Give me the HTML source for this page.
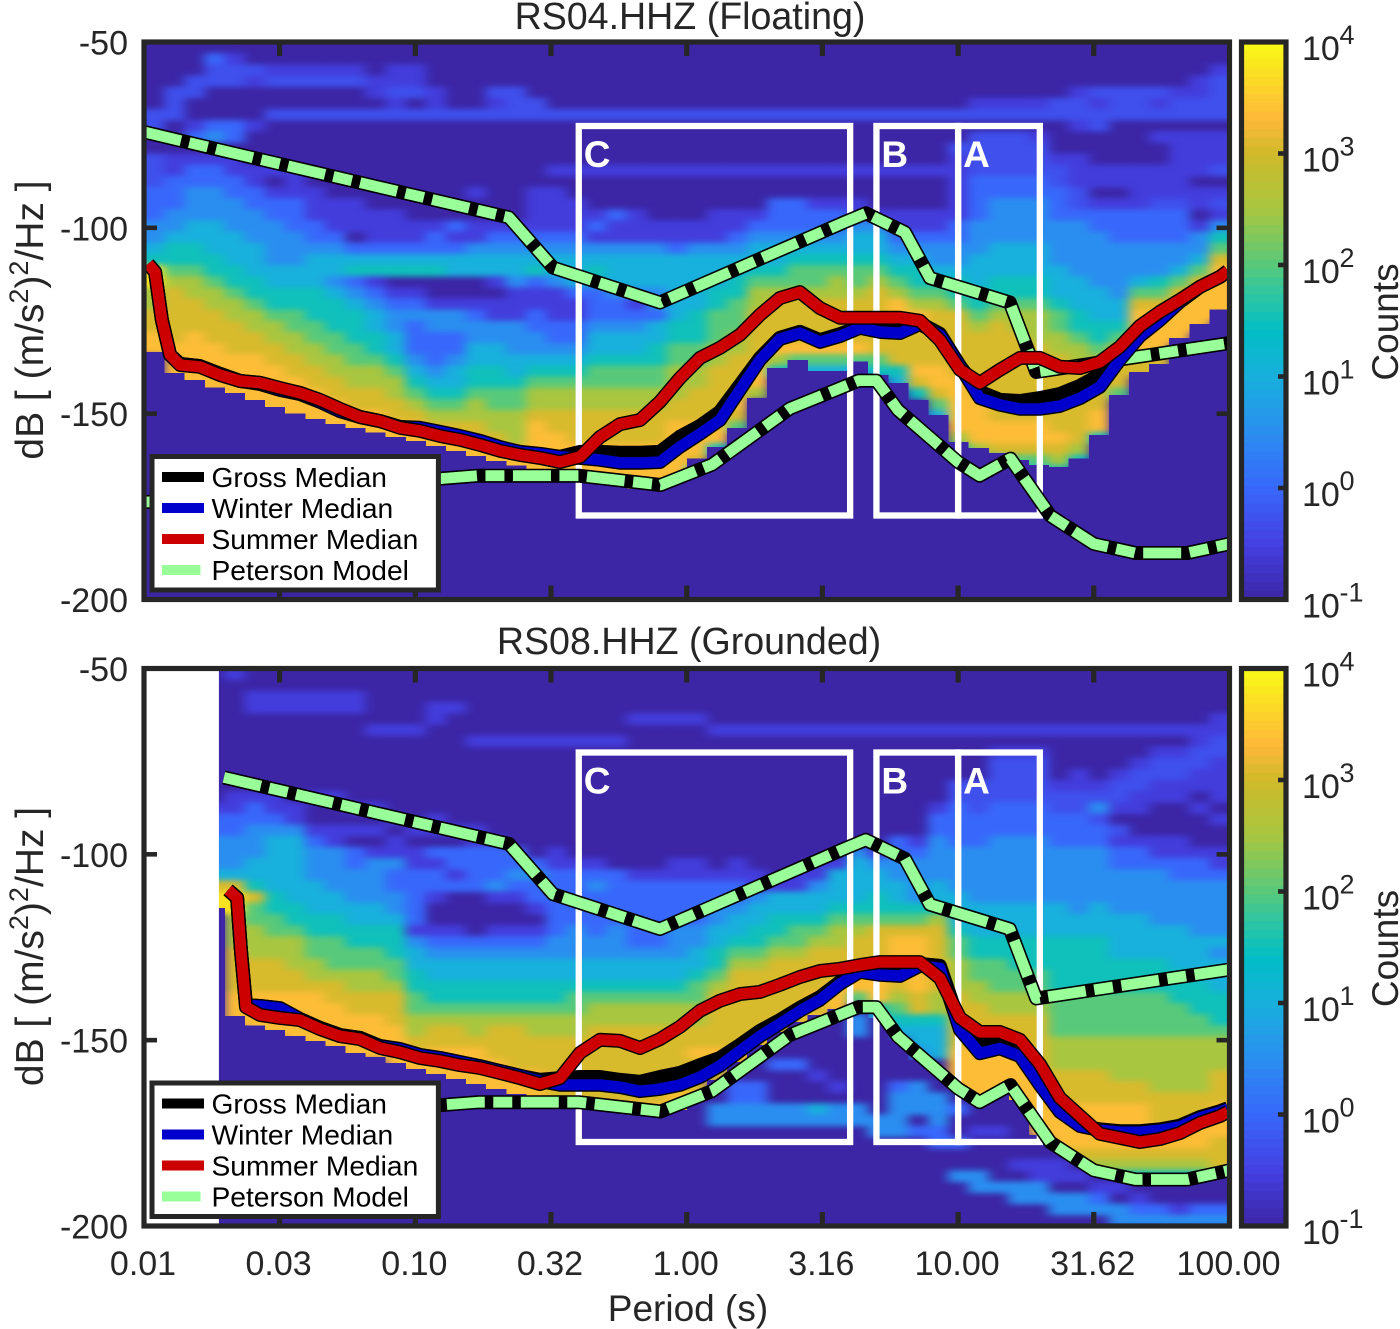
<!DOCTYPE html>
<html lang="en">
<head>
<meta charset="utf-8">
<title>RS04 and RS08 HHZ power spectral density</title>
<style>
html,body{margin:0;padding:0;background:#fff}
svg{display:block}
text{font-family:"Liberation Sans",sans-serif;fill:#262626}
.lg{font-size:28.2px;fill:#000}
.bx{font-size:37px;font-weight:bold;fill:#fff}
.ttl{font-size:37.6px;text-anchor:middle}
.ax{font-size:37px}
.yl{font-size:39px}
</style>
</head>
<body>
<svg id="chart" width="1400" height="1329" viewBox="0 0 1400 1329" xmlns="http://www.w3.org/2000/svg">
<defs>
<filter id="soft" filterUnits="userSpaceOnUse" x="90" y="0" width="1200" height="1329" color-interpolation-filters="sRGB"><feGaussianBlur stdDeviation="5.5 3"/></filter>
<clipPath id="clip-a"><rect x="144" y="42" width="1085.5" height="557.5"/></clipPath>
<clipPath id="clip-b"><rect x="144" y="668.5" width="1085.5" height="557.5"/></clipPath>
</defs>

<text class="ttl" x="690" y="29">RS04.HHZ (Floating)</text>
<g id="marks-a"></g>
<g>
<rect x="152" y="456.5" width="286.4" height="133.5" fill="#fff" stroke="#262626" stroke-width="5"/>
<rect x="162" y="472" width="42" height="10" fill="#000"/>
<rect x="162" y="503" width="42" height="10" fill="#0000cc"/>
<rect x="162" y="534" width="42" height="10" fill="#cc0000"/>
<rect x="162" y="565" width="38.5" height="10" fill="#99ff99"/>
<text class="lg" x="211.5" y="487">Gross Median</text>
<text class="lg" x="211.5" y="518">Winter Median</text>
<text class="lg" x="211.5" y="549">Summer Median</text>
<text class="lg" x="211.5" y="580">Peterson Model</text>
</g>

<text class="ttl" x="689" y="654">RS08.HHZ (Grounded)</text>
<g id="marks-b"></g>
<g>
<rect x="152" y="1083" width="286.4" height="133.5" fill="#fff" stroke="#262626" stroke-width="5"/>
<rect x="162" y="1098.5" width="42" height="10" fill="#000"/>
<rect x="162" y="1129.5" width="42" height="10" fill="#0000cc"/>
<rect x="162" y="1160.5" width="42" height="10" fill="#cc0000"/>
<rect x="162" y="1191.5" width="38.5" height="10" fill="#99ff99"/>
<text class="lg" x="211.5" y="1113.5">Gross Median</text>
<text class="lg" x="211.5" y="1144.5">Winter Median</text>
<text class="lg" x="211.5" y="1175.5">Summer Median</text>
<text class="lg" x="211.5" y="1206.5">Peterson Model</text>
</g>

<text class="ax" x="688" y="1321" text-anchor="middle">Period (s)</text>
<text class="yl" transform="translate(43,320) rotate(-90)" text-anchor="middle">dB [ (m/s<tspan dy="-15" font-size="27">2</tspan><tspan dy="15">)</tspan><tspan dy="-15" font-size="27">2</tspan><tspan dy="15">/Hz ]</tspan></text>
<text class="yl" transform="translate(43,946.5) rotate(-90)" text-anchor="middle">dB [ (m/s<tspan dy="-15" font-size="27">2</tspan><tspan dy="15">)</tspan><tspan dy="-15" font-size="27">2</tspan><tspan dy="15">/Hz ]</tspan></text>
<text class="ax" transform="translate(1398,322) rotate(-90)" text-anchor="middle">Counts</text>
<text class="ax" transform="translate(1398,948.5) rotate(-90)" text-anchor="middle">Counts</text>
<g id="colorbars"></g>
</svg>

<script>
/* ---------- shared axis data ---------- */
const xTickPeriods = [0.01, 0.0316, 0.1, 0.316, 1, 3.16, 10, 31.6, 100];
const xTickLabels = ["0.01", "0.03", "0.10", "0.32", "1.00", "3.16", "10.00", "31.62", "100.00"];
const yTicks = [-50, -100, -150, -200];
const colorbarExponents = [4, 3, 2, 1, 0, -1];
const colorStops = [
  [0.00, 60, 38, 166], [0.10, 68, 64, 226], [0.20, 56, 104, 251], [0.30, 42, 142, 240],
  [0.40, 24, 176, 220], [0.48, 2, 189, 198], [0.55, 48, 198, 160], [0.60, 88, 201, 122],
  [0.70, 168, 198, 64], [0.80, 208, 186, 42], [0.86, 253, 184, 58], [0.92, 252, 212, 42],
  [1.00, 249, 251, 21]
];
const levelFractions = {"0":0,"1":0.09,"b":0.14,"2":0.2,"3":0.3,"4":0.4,"5":0.5,"6":0.6,"7":0.7,"8":0.81,"9":0.87,"a":0.95};

/* ---------- Peterson noise models ---------- */
const nhnmPeriods = [0.01, 0.0197, 0.2213, 0.3214, 0.796, 3.8, 4.57, 6.37, 7.87, 15.5, 19.4, 100];
const nhnmDb = [-74.2, -79.3, -97.2, -110.7, -120.1, -98.5, -96.1, -101.2, -113.5, -120.1, -138.8, -131];
const nlnmPeriods = [0.01, 0.02, 0.1, 0.17, 0.4, 0.8, 1.24, 2.4, 4.3, 5, 6, 10, 12, 15.6, 21.9, 31.6, 45, 70, 100];
const nlnmDb = [-173.8, -172.5, -168, -166.7, -166.7, -169.2, -163.7, -148.6, -141.1, -141.1, -149, -163, -166.7, -162.1, -177.5, -185, -187.5, -187.5, -185];

/* ---------- highlighted period windows ---------- */
const windowLabels = ["C", "B", "A"];
const windowLowPeriods = [0.4, 5, 10];
const windowHighPeriods = [4, 10, 20];
const windowTopDb = -72.6;
const windowBottomDb = -177.4;

/* ---------- top panel: median curves (log10 period, dB) ---------- */
const logPeriodsA = [-1.985,-1.959,-1.934,-1.904,-1.867,-1.794,-1.72,-1.646,-1.573,-1.499,-1.425,-1.352,-1.278,-1.204,-1.13,-1.057,-0.983,-0.909,-0.836,-0.762,-0.688,-0.615,-0.541,-0.467,-0.393,-0.32,-0.246,-0.172,-0.099,-0.025,0.049,0.122,0.196,0.27,0.343,0.417,0.491,0.565,0.638,0.712,0.786,0.859,0.933,1.007,1.08,1.154,1.228,1.301,1.375,1.449,1.522,1.596,1.67,1.744,1.817,1.891,1.965,1.994];
const grossA = [-109.7,-111.9,-124.8,-134.2,-136.6,-137.2,-139.3,-141.2,-141.7,-143.3,-144.4,-146.6,-149,-150.9,-152,-153.6,-154.1,-155.2,-156.2,-157.6,-159.2,-160.3,-161.1,-161.6,-160.3,-160.3,-160.5,-160.5,-160.3,-156.2,-153.3,-149.5,-142.3,-135,-129.6,-128,-130.2,-128.6,-126.6,-126.9,-127.5,-125.6,-128.5,-137.2,-144.1,-146.3,-146.6,-145.8,-144.7,-142.5,-139.6,-134.7,-128.5,-123.7,-119.9,-115.9,-113.2,-111.6];
const winterA = [-109.7,-111.9,-124.8,-134.2,-136.6,-137.2,-139.3,-141.2,-142,-143.6,-144.7,-146.8,-149.3,-150.9,-152,-153.6,-153.8,-154.9,-156,-157.3,-159,-160.3,-160.8,-161.6,-161.9,-162.4,-163.2,-163.2,-163,-158.9,-155.4,-151.7,-143.6,-135.5,-129.9,-128.3,-130.7,-129.1,-126.9,-128,-128.3,-125.9,-128.8,-137.2,-145.8,-147.6,-148.7,-148.7,-147.9,-145.8,-142.8,-135.5,-129.1,-124.8,-119.9,-115.9,-113.2,-111.6];
const summerA = [-109.7,-111.9,-124.8,-134.2,-136.9,-137.4,-139.6,-141.2,-141.7,-143.1,-144.4,-146.3,-148.7,-150.9,-152,-153.8,-154.6,-156,-157,-158.4,-160,-161.1,-161.9,-163,-161.6,-156.3,-152.8,-151.7,-146.8,-140.4,-135,-132.3,-128.8,-123.4,-118.9,-117.3,-121.6,-124.2,-124.2,-124.2,-124.2,-125,-130.2,-138.2,-141.7,-138.2,-135,-135,-137.4,-137.7,-136.1,-132,-126.4,-122.6,-119.4,-115.9,-113.2,-111.6];

/* ---------- bottom panel: median curves (log10 period, dB) ---------- */
const logPeriodsB = [-1.69,-1.657,-1.643,-1.624,-1.573,-1.499,-1.425,-1.352,-1.278,-1.204,-1.13,-1.057,-0.983,-0.909,-0.836,-0.762,-0.688,-0.615,-0.541,-0.467,-0.393,-0.32,-0.246,-0.172,-0.099,-0.025,0.049,0.122,0.196,0.27,0.343,0.417,0.491,0.565,0.638,0.712,0.786,0.859,0.933,1.007,1.08,1.154,1.228,1.301,1.375,1.449,1.522,1.596,1.67,1.744,1.817,1.891,1.965,1.994];
const grossB = [-109.6,-111.7,-125.7,-140.6,-140.8,-141.4,-144.3,-146.7,-148.6,-149.4,-151.6,-152.4,-154,-154.8,-155.9,-157,-158.3,-159.6,-160.7,-160.2,-159.9,-159.9,-160.7,-161.2,-159.9,-158.8,-156.7,-154.8,-151.3,-147.5,-144.6,-141.3,-138.4,-134.3,-131.4,-131.6,-131.6,-129.5,-130,-145.9,-151.3,-150.5,-152.6,-161.2,-169,-173,-174,-174.5,-174.5,-174,-173,-170.7,-169.1,-168.3];
const winterB = [-109.6,-111.7,-125.7,-140.6,-140.8,-141.4,-144.3,-146.7,-148.6,-149.4,-151.6,-152.4,-154,-154.8,-155.9,-157,-158.3,-159.6,-161,-162,-162,-162,-162.6,-163.7,-163.1,-162,-159.9,-156.9,-152.9,-148.9,-145.6,-142.1,-139.1,-134.8,-131.6,-132.4,-132.7,-130,-130.6,-147.2,-153.5,-152.2,-154.3,-162,-169.3,-173.1,-174.2,-174.7,-174.7,-174.2,-173.3,-170.9,-169.3,-168.5];
const summerB = [-109.6,-111.7,-125.7,-141.1,-143.2,-144,-144.6,-147,-148.9,-149.7,-152.1,-153.2,-154.8,-155.6,-156.7,-157.5,-158.8,-160.2,-161.8,-160.2,-153.4,-149.9,-150.2,-152.1,-149.7,-146.4,-142.1,-139.4,-137.6,-137,-135.1,-133,-131.4,-130.8,-129.8,-129,-129,-129,-133.3,-144,-147.8,-147.8,-149.9,-156.4,-165.5,-170.4,-175.2,-176.3,-177.4,-176.6,-175,-172.3,-170.4,-169.3];

/* ---------- top panel heat map: one string per period bin, 3 dB rows from -50 dB down ---------- */
const heatFloorA = [-133.4,-139,-141,-143,-144.4,-146.3,-148.2,-150,-151.4,-152.8,-153.8,-155,-156.3,-157.3,-158.7,-160,-161.4,-162.7,-164,-165,-165.7,-166.2,-167.3,-168.6,-170.3,-170.5,-167.3,-162,-159,-153.8,-145.8,-137.7,-135.5,-138.5,-138.5,-136,-139.6,-141.7,-146.3,-150.4,-157.6,-159.2,-160.6,-162.5,-163.8,-164.3,-162,-155.7,-145,-138.8,-136.6,-129.6,-125.9,-122];
const heatLevelsA = [
"00000 0bb00 bbb22 23345 aa778 899",
"0000b bb000 11222 33455 67888 88999 9",
"000bb 00120 12233 34455 67788 89999 99",
"02bb0 00230 12233 34445 56778 88999 99",
"01bb0 00220 11223 33444 55677 88899 999",
"00b10 00100 01122 33344 45567 78899 9999",
"001b0 0b000 01012 23333 44556 77889 99999",
"001b0 0b000 01112 22333 44556 67788 99999",
"001b0 0b000 00011 12234 44555 66778 89999 9",
"001b0 0b000 00001 11234 43455 56677 88999 9",
"001b0 0b000 00001 11024 52345 55667 78899 9",
"00011 0b000 00000 11124 51234 45567 78899 9",
"0011b 1b000 00000 11124 50123 34456 77889 99",
"0011b 0b000 00000 01124 50123 22234 56789 99",
"00001 1b000 00000 01224 50013 32223 45678 99",
"00000 0b000 00000 02124 40013 32234 45678 899",
"00000 0b000 00010 01134 40012 33445 56778 8999",
"0000b 1b000 00000 01234 41011 33445 56677 8899 9",
"0000b bb000 00000 01234 43111 33344 56677 78999",
"00000 bb000 00011 11234 52112 23345 67789 99999",
"00000 0b000 01011 11234 43111 22345 67788 99999",
"00000 0b000 01001 11234 44211 22345 67788 89999",
"00000 0b000 01000 12134 54222 34456 67788 89999",
"00000 0b000 01000 21134 44322 34456 67788 89999",
"00000 0b000 01000 11134 44312 34456 67788 89999",
"00000 0b000 01000 01134 44332 44556 67788 89999",
"00000 0b000 01000 01124 44444 55667 77889 99999",
"00000 0b000 01000 01134 44445 55667 78889 9985",
"00000 0b000 01000 11134 44556 66778 88889 95",
"00000 0b000 01000 11234 45566 67788 88986",
"00000 0b000 01000 12344 56778 88889 97",
"00000 0b000 01002 22344 56788 88975",
"00000 0b000 01002 22345 66788 88964",
"00000 0b000 01001 22345 66788 88964",
"00000 0b000 01001 22345 67788 88964",
"00000 0b000 01001 13445 66788 88964",
"00000 0b000 01000 13445 67888 88865",
"00000 0b000 01000 11234 56799 98885 4",
"00000 0b000 01000 11234 55679 98889 85",
"00000 0b000 01000 11233 45678 88889 9864",
"00000 0b00b 11111 12233 45568 88888 99999 75",
"00000 1b0bb bb222 23334 44556 78888 88999 97",
"00000 1b0bb bb223 33344 45567 88888 88889 985",
"00000 1b0bb bb223 33344 45567 78888 88889 9864",
"00000 1b01b bb223 33344 45567 77888 88889 9864",
"00000 bb000 1bb22 23333 44456 67788 88888 9875",
"00001 bb100 111bb 23333 34445 56778 88888 875",
"0000b 1bb00 01101 22333 33444 55678 88899 5",
"0000b bb000 01101 22233 33344 56888 86",
"0000b bb000 01111 22233 34689 99988",
"0000b 1b010 0111b 22233 35689 99988",
"00001 bb011 1111b 22233 46899 99",
"00011 bb011 11011 01334 68999 9",
"001bb bb011 1b01b 13568 99999"
];

/* ---------- bottom panel heat map ---------- */
const heatFloorB = [-200,-200,-200,-114.4,-143.5,-146,-147.3,-148.9,-150.2,-151.6,-153.4,-154.5,-156.1,-157.7,-159.1,-160.4,-161.8,-163.1,-164.5,-165.6,-166.1,-166.9,-168.2,-169,-170.1,-170.4,-168.8,-165.3,-160.7,-155.9,-151.3,-147.8,-145.1,-143.2,-141.6,-140,-144,-150,-155.3,-160.7,-163.4,-165.3,-163.4,-166.1,-175.5,-179.5,-182.2,-184.4,-185.5,-186.5,-186.8,-186.8,-186.8,-185.5];
const heatLevelsB = [
"",
"",
"",
"00000 00000 00122 33348 aa",
"10000 00000 01122 33348 aa777 88889 99",
"00110 00000 01223 33445 86677 78889 999",
"00110 00000 01123 44444 55667 78889 999",
"00110 00000 00113 44444 45567 77889 9999",
"00110 00000 01001 23334 44556 67789 9999",
"00110 00000 01001 13333 44556 66788 99999",
"00110 00000 00101 02233 34455 66778 89999",
"00000 10000 00101 01333 34455 66778 89999",
"00000 10000 00010 11322 33455 56678 88999 9",
"00000 10000 00001 01122 22213 44556 67788 9999",
"00011 00000 00011 02122 10012 34455 67889 9999",
"00010 00000 00001 02212 00012 34455 67889 9999",
"00000 01000 00001 12222 00002 34455 67789 99999",
"00000 01000 00000 12223 10012 34455 67888 99999",
"00000 01000 00000 02232 10012 34455 67888 89999",
"00000 01000 00000 00232 21012 34455 67788 89999",
"00000 01000 00000 01122 22223 34455 67788 88889 9",
"00000 01000 00000 00122 22233 34456 67788 88889 99",
"00000 01000 00000 00123 22223 34456 77888 88889 99",
"00000 01000 00000 00022 22233 34456 77888 88889 99",
"00001 00000 00000 00012 22222 34456 77888 88889 99",
"00001 00000 00000 00012 22222 34456 77888 88889 99",
"00001 00000 00000 00112 22233 34456 77888 88899",
"00001 00000 00000 00112 22233 44566 77889 88899",
"00000 10000 00000 00012 23344 55678 88889 88",
"00000 10000 00000 00112 23445 67888 88889 8",
"00000 10000 00000 00011 34455 67888 88889",
"00000 10000 00000 00001 44556 78888 8889",
"00000 10000 00000 00011 44566 78888 889",
"00000 10000 00000 00113 44567 88889 89",
"00000 10000 00000 00144 45677 88899 9",
"00000 10000 00000 03444 45678 88996",
"00000 10000 00000 01344 55688 89999 54",
"00000 10000 00000 22334 45689 99987 654",
"00000 10000 00000 12333 35689 99998 85443",
"00000 10000 00122 33334 45788 88887 75444",
"00000 10000 bb222 23333 44456 67778 88889 9999",
"00000 10000 bbb22 23333 34445 56677 88889 99999",
"00000 101bb bb222 33333 34445 56667 78889 99999",
"00000 101bb bb222 33333 34445 55667 78889 99999",
"00000 101bb bb222 33333 34445 55667 78888 89999 99",
"00000 10000 1bb22 23333 34445 55556 66677 78889 99987",
"00000 10001 1bb22 23333 33445 55556 66677 78889 99987 5",
"00000 10000 1b3b2 23333 34445 55556 66677 78889 99987 5",
"00000 10001 bb10b 12233 33444 45556 66677 77889 99987 5",
"00000 1001b b1100 12233 33444 45556 66677 77889 99987 5",
"00000 101bb 11000 11233 33344 45556 66677 77788 89987 5",
"00000 101bb 11000 11223 33344 44555 66677 77788 89987 5",
"00000 11bb1 10100 01223 33334 44455 56677 77788 89987 5",
"00001 1bb11 11010 01123 33334 34445 55677 78889 99888 76"
];
/* faint detached bands below the main cloud: period bin, first row, levels */
const lowBandBins = [28,29,29,30,30,31,31,32,32,33,33,34,34,35,35,36,37,38,38,39,40,40,40,41,41,42,42,43,43,44,44,45,45,46,46,47,47,48,48,49,49,50,51,52,53];
const lowBandRows = [39,37,39,37,39,35,39,35,39,36,39,37,39,31,39,40,37,37,41,38,39,42,45,41,45,41,46,44,46,44,46,44,47,45,47,46,47,46,48,47,48,48,48,48,48];
const lowBandLevels = ["33","22","33","22","33","2","33","2","33","1","43","1","33","33","33","33","23333","333","2","33322","2","2","3","1","33","1","3","1","33","11","33","11","33","1","33","1","23","1","33","1","23","23","13","23","23"];
/* period below which the bottom station has no data (log10 seconds) */
const noDataEndLogPeriodB = -1.724;

/* ---------- axis functions ---------- */
const NS = "http://www.w3.org/2000/svg";
const xLog = v => 144 + (v + 2) * 271.375;
const xPeriod = t => xLog(Math.log10(t));
const yDb = (top, db) => top + (-50 - db) * (557.5 / 150);

function make(tag, parent, attrs) {
  const node = document.createElementNS(NS, tag);
  for (const key in attrs) node.setAttribute(key, attrs[key]);
  parent.appendChild(node);
  return node;
}
function colorAt(t) {
  for (let i = 1; i < colorStops.length; i++) {
    if (t <= colorStops[i][0]) {
      const a = colorStops[i - 1], b = colorStops[i];
      const f = (t - a[0]) / (b[0] - a[0]);
      return "rgb(" + [1, 2, 3].map(k => Math.round(a[k] + (b[k] - a[k]) * f)).join(",") + ")";
    }
  }
  return "rgb(249,251,21)";
}
function points(xs, ys, top) {
  return xs.map((v, i) => v.toFixed(1) + "," + yDb(top, ys[i]).toFixed(1)).join(" ");
}

const COLS = 54;
const ROWS = 50;
const colWidth = xLog(-2 + 4 / COLS) - xLog(-2);

function drawHeatCells(group, top, col, firstRow, levels) {
  for (let i = 0; i < levels.length; i++) {
    const level = levels[i];
    if (level === "0") continue;
    const r = firstRow + i;
    const left = xLog(-2 + col * 4 / COLS);
    const y0 = yDb(top, -50 - 3 * r);
    const y1 = yDb(top, -50 - 3 * (r + 1));
    const pad = col === 0 ? 20 : 0;
    const padRight = col === COLS - 1 ? 20 : 0;
    const cell = make("rect", group, {
      x: (left - pad).toFixed(1),
      y: y0.toFixed(1),
      width: (colWidth + pad + padRight + 0.5).toFixed(1),
      height: (y1 - y0 + 0.5).toFixed(1),
      fill: colorAt(levelFractions[level])
    });
    
    
  }
}

function drawPanel(cfg) {
  const root = document.getElementById(cfg.rootId);
  const top = cfg.top;
  const bg = make("rect", root, {x: 144, y: top, width: 1085.5, height: 557.5, fill: colorAt(0)});
  
  

  const heatClip = make("g", root, {"clip-path": "url(#" + cfg.clip + ")"});
  
  
  const heat = make("g", heatClip, {filter: "url(#soft)"});
  
  
  cfg.levels.forEach((s, c) => drawHeatCells(heat, top, c, 0, s.replace(/ /g, "")));

  cfg.floor.forEach((db, c) => {
    const yy = yDb(top, db);
    const left = xLog(-2 + c * 4 / COLS);
    const mask = make("rect", heatClip, {
      x: left.toFixed(1), y: yy.toFixed(1),
      width: (colWidth + 0.5).toFixed(1),
      height: (yDb(top, -200) - yy + 1).toFixed(1),
      fill: colorAt(0), "shape-rendering": "crispEdges"
    });
    
    
  });

  if (cfg.bandBins) {
    const bands = make("g", heatClip, {filter: "url(#soft)"});
    
    
    cfg.bandBins.forEach((c, i) => drawHeatCells(bands, top, c, cfg.bandRows[i], cfg.bandLevels[i]));
  }
  if (cfg.noDataEnd !== undefined) {
    const blank = make("rect", root, {x: 144, y: top, width: xLog(cfg.noDataEnd) - 144, height: 557.5, fill: "#fff"});
    
    
  }

  /* period windows */
  windowLabels.forEach((label, i) => {
    const x0 = xPeriod(windowLowPeriods[i]), x1 = xPeriod(windowHighPeriods[i]);
    const y0 = yDb(top, windowTopDb), y1 = yDb(top, windowBottomDb);
    const box = make("rect", root, {x: x0, y: y0, width: x1 - x0, height: y1 - y0, fill: "none", stroke: "#fff", "stroke-width": 6.3});
    
    
    const tag = make("text", root, {x: x0 + 5, y: y0 + 41, "class": "bx"});
    tag.textContent = label;
    
    
  });

  /* Peterson models */
  const lines = make("g", root, {"clip-path": "url(#" + cfg.clip + ")", fill: "none", "stroke-linejoin": "round"});
  
  
  [[nhnmPeriods, nhnmDb, 'high-noise-model'], [nlnmPeriods, nlnmDb, 'low-noise-model']].forEach(m => {
    const from = cfg.modelStart;
    const pts = points(m[0].slice(from).map(xPeriod), m[1].slice(from), top);
    const under = make("polyline", lines, {points: pts, stroke: "#000", "stroke-width": 14});
    
    
    const over = make("polyline", lines, {points: pts, stroke: "#99ff99", "stroke-width": 10.8, "stroke-dasharray": "38 8.5 19 8.5"});
    
    
  });

  /* medians */
  const xs = cfg.logPeriods.map(xLog);
  [[cfg.gross, "#000", 'gross-median'], [cfg.winter, "#0000cc", 'winter-median'], [cfg.summer, "#cc0000", 'summer-median']].forEach(s => {
    const pts = points(xs, s[0], top);
    const edge = make("polyline", lines, {points: pts, stroke: "#000", "stroke-width": 14});
    
    
    const core = make("polyline", lines, {points: pts, stroke: s[1], "stroke-width": 11.2});
    
    
  });

  /* frame and ticks */
  const bottom = yDb(top, -200);
  const frame = make("rect", root, {x: 144, y: top, width: 1085.5, height: 557.5, fill: "none", stroke: "#262626", "stroke-width": 5.2});
  
  
  xTickPeriods.forEach((t, i) => {
    const xx = xPeriod(t);
    if (i > 0 && i < xTickPeriods.length - 1) {
      const tickTop = make("rect", root, {x: xx - 2.6, y: top, width: 5.2, height: 14, fill: "#262626"});
      
      
      const tickBottom = make("rect", root, {x: xx - 2.6, y: bottom - 14, width: 5.2, height: 14, fill: "#262626"});
      
      
    }
    if (cfg.showX) {
      const label = make("text", root, {x: xx - 1, y: 1275, "text-anchor": "middle", "font-size": 34});
      label.textContent = xTickLabels[i];
      
      
    }
  });
  yTicks.forEach(db => {
    const yy = yDb(top, db);
    if (db !== -50 && db !== -200) {
      const tickLeft = make("rect", root, {x: 144, y: yy - 2.3, width: 13, height: 4.6, fill: "#262626"});
      
      
      const tickRight = make("rect", root, {x: 1216.5, y: yy - 2.3, width: 13, height: 4.6, fill: "#262626"});
      
      
    }
    const label = make("text", root, {x: 128, y: yy + 12.5, "text-anchor": "end", "font-size": 34});
    label.textContent = String(db);
    
    
  });
}

function drawColorbar(top) {
  const host = document.getElementById("colorbars");
  const steps = 64;
  const h = 557.5;
  for (let i = 0; i < steps; i++) {
    const seg = make("rect", host, {
      x: 1241.5, y: (top + h * i / steps).toFixed(2), width: 44.5,
      height: (h / steps + 0.6).toFixed(2), fill: colorAt(1 - (i + 0.5) / steps)
    });
    
    
  }
  const frame = make("rect", host, {x: 1241.5, y: top, width: 44.5, height: h, fill: "none", stroke: "#262626", "stroke-width": 5.2});
  
  
  colorbarExponents.forEach(e => {
    const yy = top + (4 - e) * (h / 5);
    if (e !== 4 && e !== -1) {
      const tick = make("rect", host, {x: 1278, y: yy - 2.3, width: 8, height: 4.6, fill: "#262626"});
      
      
    }
    const base = make("text", host, {x: 1302, y: yy + 18, "font-size": 34});
    base.textContent = "10";
    
    
    const exp = make("text", host, {x: 1339.5, y: yy + 2, "font-size": 27});
    exp.textContent = String(e);
    
    
  });
}

drawPanel({rootId: "marks-a", clip: "clip-a", top: 42, levels: heatLevelsA, floor: heatFloorA,
  logPeriods: logPeriodsA, gross: grossA, winter: winterA, summer: summerA, modelStart: 0, showX: false});
drawPanel({rootId: "marks-b", clip: "clip-b", top: 668.5, levels: heatLevelsB, floor: heatFloorB,
  bandBins: lowBandBins, bandRows: lowBandRows, bandLevels: lowBandLevels, noDataEnd: noDataEndLogPeriodB,
  logPeriods: logPeriodsB, gross: grossB, winter: winterB, summer: summerB, modelStart: 1, showX: true});
drawColorbar(42);
drawColorbar(668.5);
</script>
</body>
</html>
